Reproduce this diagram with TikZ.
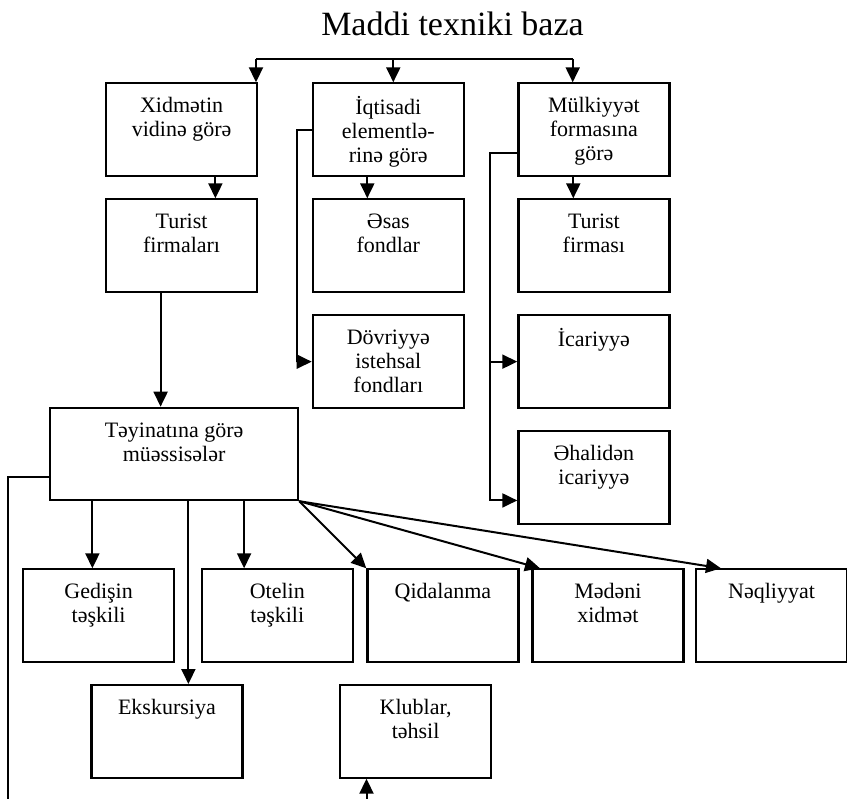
\documentclass[tikz,border=0pt]{standalone}
\usepackage{fontspec}
\setmainfont{Liberation Serif}
\usetikzlibrary{arrows.meta,calc}
\begin{document}
\begin{tikzpicture}[x=1pt,y=-1pt,
  box/.style={draw, line width=2.2pt, rectangle, inner sep=0pt, minimum width=151pt, minimum height=92.5pt, anchor=north west},
  txt/.style={inner sep=0pt, align=center, font=\fontsize{22}{24}\selectfont, anchor=north},
  arr/.style={line width=2pt, -{Triangle[width=14pt,length=15pt]}},
  ln/.style={line width=2pt}]
\fill[white] (0,0) rectangle (847,799);
\useasboundingbox (0,0) rectangle (847,799);

\node[font=\fontsize{34}{40}\selectfont, anchor=base, inner sep=0pt] (title) at (452.5,36) {Maddi texniki baza};

% boxes
\node[box] (b1) at (105,82.3) {};
\node[box] (b2) at (311.7,82.3) {};
\node[box] (b3) at (517.3,82.3) {};
\node[box] (c1) at (105,198.3) {};
\node[box] (c2) at (311.7,198.3) {};
\node[box] (c3) at (517.3,198.3) {};
\node[box] (d2) at (311.7,314.3) {};
\node[box] (d3) at (517.3,314.3) {};
\node[box] (e3) at (517.3,430.3) {};
\node[box, minimum width=248pt, minimum height=92.3pt] (T) at (49,406.7) {};
\node[box] (g1) at (22,568.3) {};
\node[box] (g2) at (200.7,568.3) {};
\node[box] (g3) at (366.3,568.3) {};
\node[box] (g4) at (531.3,568.3) {};
\node[box] (g5) at (695,568.3) {};
\node[box] (h1) at (90.3,684) {};
\node[box] (h2) at (339,684) {};

% texts
\node[txt] (b1t) at ([yshift=-13.7pt]b1.north) {\strut Xidmətin\\\strut vidinə görə};
\node[txt] (b2t) at ([yshift=-13.7pt]b2.north) {\strut İqtisadi\\\strut elementlə-\\\strut rinə görə};
\node[txt] (b3t) at ([yshift=-13.7pt]b3.north) {\strut Mülkiyyət\\\strut formasına\\\strut görə};
\node[txt] (c1t) at ([yshift=-13.7pt]c1.north) {\strut Turist\\\strut firmaları};
\node[txt] (c2t) at ([yshift=-13.7pt]c2.north) {\strut Əsas\\\strut fondlar};
\node[txt] (c3t) at ([yshift=-13.7pt]c3.north) {\strut Turist\\\strut firması};
\node[txt] (d2t) at ([yshift=-13.7pt]d2.north) {\strut Dövriyyə\\\strut istehsal\\\strut fondları};
\node[txt] (d3t) at ([yshift=-13.7pt]d3.north) {\strut İcariyyə};
\node[txt] (e3t) at ([yshift=-13.7pt]e3.north) {\strut Əhalidən\\\strut icariyyə};
\node[txt] (Tt) at ([yshift=-13.7pt]T.north) {\strut Təyinatına görə\\\strut müəssisələr};
\node[txt] (g1t) at ([yshift=-13.7pt]g1.north) {\strut Gedişin\\\strut təşkili};
\node[txt] (g2t) at ([yshift=-13.7pt]g2.north) {\strut Otelin\\\strut təşkili};
\node[txt] (g3t) at ([yshift=-13.7pt]g3.north) {\strut Qidalanma};
\node[txt] (g4t) at ([yshift=-13.7pt]g4.north) {\strut Mədəni\\\strut xidmət};
\node[txt] (g5t) at ([yshift=-13.7pt]g5.north) {\strut Nəqliyyat};
\node[txt] (h1t) at ([yshift=-13.7pt]h1.north) {\strut Ekskursiya};
\node[txt] (h2t) at ([yshift=-13.7pt]h2.north) {\strut Klublar,\\\strut təhsil};

% top distribution
\coordinate (tl) at (256,59);
\coordinate (tm) at (393.3,59);
\coordinate (tr) at (572.7,59);
\draw[ln] (tl) -- (tr);
\draw[arr] (tl) -- (tl |- b1.north);
\draw[arr] (tm) -- (tm |- b2.north);
\draw[arr] (tr) -- (tr |- b3.north);

% row 1 -> row 2
\draw[arr] ([xshift=33.8pt]b1.south) -- ([xshift=33.8pt]c1.north);
\draw[arr] ([xshift=-21pt]b2.south) -- ([xshift=-21pt]c2.north);
\draw[arr] ([xshift=-20.6pt]b3.south) -- ([xshift=-20.6pt]c3.north);

% Turist firmalari -> Teyinatina
\draw[arr] ([xshift=-21pt]c1.south) coordinate (p1) -- (p1 |- T.north);

% brackets
\draw[arr] (b2.west) -- ++(-14.4,0) |- (d2.west);
\coordinate (m3) at ([yshift=-22.8pt]e3.west);
\draw[arr] ([yshift=-23.7pt]b3.west) -- ++(-27.3,0) coordinate (m2) |- (m3);
\draw[arr] (m2 |- d3.west) -- (d3.west);

% left line and Klublar
\coordinate (lb) at (8,799);
\draw[ln] ([yshift=-22.9pt]T.west) -| (lb);
\coordinate (kb) at (366.5,799);
\draw[arr] (kb) -- (kb |- h2.south);

% from Teyinatina
\draw[arr] ([xshift=-81.7pt]T.south) coordinate (q1) -- (q1 |- g1.north);
\draw[arr] ([xshift=14.3pt]T.south) coordinate (q2) -- (q2 |- h1.north);
\draw[arr] ([xshift=70pt]T.south) coordinate (q3) -- (q3 |- g2.north);
\draw[arr] (T.south east) -- (g3.north west);
\draw[arr] (T.south east) -- ([xshift=8.7pt]g4.north west);
\draw[arr] (T.south east) -- ([xshift=26pt]g5.north west);
\end{tikzpicture}
\end{document}
